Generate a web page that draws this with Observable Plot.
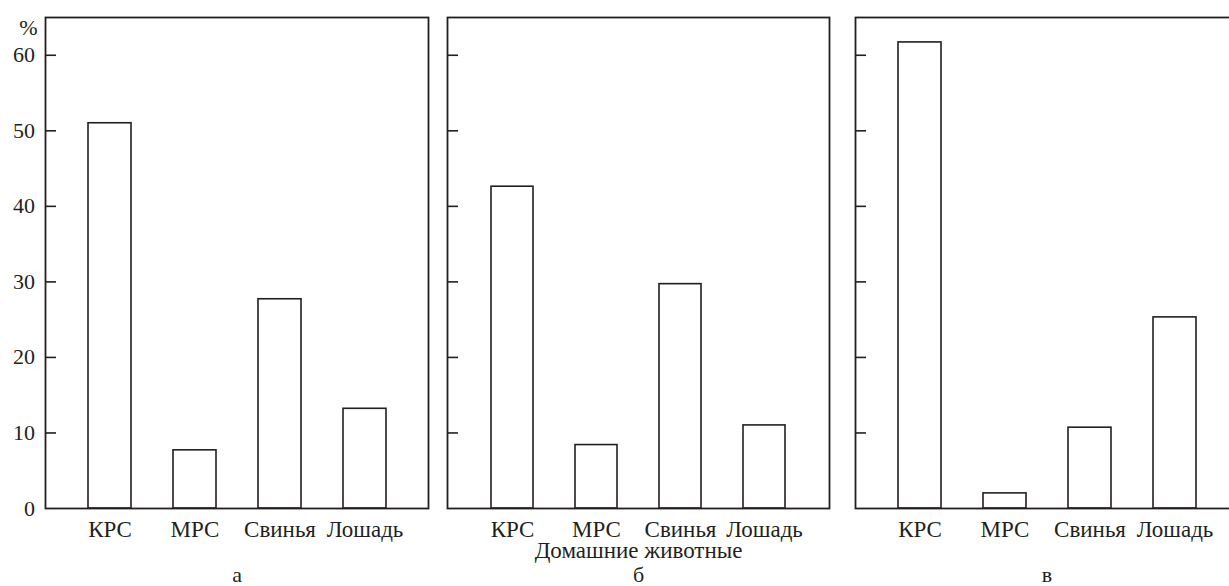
<!DOCTYPE html>
<html>
<head>
<meta charset="utf-8">
<script src="https://cdn.jsdelivr.net/npm/d3@7"></script>
<script src="https://cdn.jsdelivr.net/npm/@observablehq/plot@0.6"></script>
<style>
  html, body { margin: 0; padding: 0; background: #fff; overflow: hidden; }
  #wrap { position: relative; width: 1229px; height: 586px; overflow: hidden; background: #fff; }
  #wrap svg { position: absolute; top: 0; max-width: none !important; background: transparent !important; }
  #wrap svg, #wrap svg text, #wrap svg g { font-family: "Liberation Serif", "DejaVu Serif", serif !important; }
</style>
</head>
<body>
<div id="wrap"></div>
<script>
// ---- data ----
const categories = ["КРС", "МРС", "Свинья", "Лошадь"];
const valuesA = [51.0, 7.7, 27.7, 13.2];
const valuesB = [42.6, 8.4, 29.7, 11.0];
const valuesC = [61.7, 2.0, 10.7, 25.3];
const yTicks = [0, 10, 20, 30, 40, 50, 60];
const panelLabels = ["а", "б", "в"];
const xTitle = "Домашние животные";
const yUnit = "%";

const INK = "#231f20";
const FONT = "Liberation Serif";

function panel({values, letter, showY, showTitle, left, marginLeft, plotW}) {
  const marginRight = 4;
  const width = marginLeft + plotW + marginRight;
  const table = categories.map((c, i) => ({cat: c, v: values[i]}));
  const marks = [
    Plot.barY(table, {x: "cat", y: "v", fill: "white", stroke: INK, strokeWidth: 1.6}),
    Plot.tickY(yTicks.filter(t => t > 0), {y: d => d, stroke: INK, strokeWidth: 1.6, insetRight: plotW - 11}),
    Plot.frame({stroke: INK, strokeWidth: 1.8}),
    Plot.axisX({tickSize: 0, tickPadding: 12, fontSize: 23, fontFamily: FONT, label: null, fill: INK}),
    Plot.text([letter], {frameAnchor: "bottom", lineAnchor: "top", dy: 58, fontSize: 22, fontFamily: FONT, fill: INK})
  ];
  if (showY) {
    marks.push(Plot.axisY({ticks: yTicks, tickSize: 0, tickPadding: 10.5, fontSize: 22, fontFamily: FONT, label: null, fill: INK}));
    marks.push(Plot.text([yUnit], {frameAnchor: "top-left", textAnchor: "end", dx: -8, dy: 2, fontSize: 22, fontFamily: FONT, fill: INK}));
  }
  if (showTitle) {
    marks.push(Plot.text([xTitle], {frameAnchor: "bottom", lineAnchor: "top", dy: 33, fontSize: 23, fontFamily: FONT, fill: INK}));
  }
  const chart = Plot.plot({
    width,
    height: 586,
    marginLeft,
    marginRight,
    marginTop: 17,
    marginBottom: 78,
    style: {background: "transparent", overflow: "visible"},
    x: {domain: categories, padding: 0.5, axis: null},
    y: {domain: [0, 65], axis: null},
    marks
  });
  chart.style.position = "absolute";
  chart.style.left = left + "px";
  chart.style.top = "0px";
  document.getElementById("wrap").appendChild(chart);
}

panel({values: valuesA, letter: panelLabels[0], showY: true, showTitle: false, left: 0, marginLeft: 45, plotW: 383});
panel({values: valuesB, letter: panelLabels[1], showY: false, showTitle: true, left: 437, marginLeft: 10, plotW: 382});
panel({values: valuesC, letter: panelLabels[2], showY: false, showTitle: false, left: 845, marginLeft: 10, plotW: 383});
</script>
</body>
</html>
